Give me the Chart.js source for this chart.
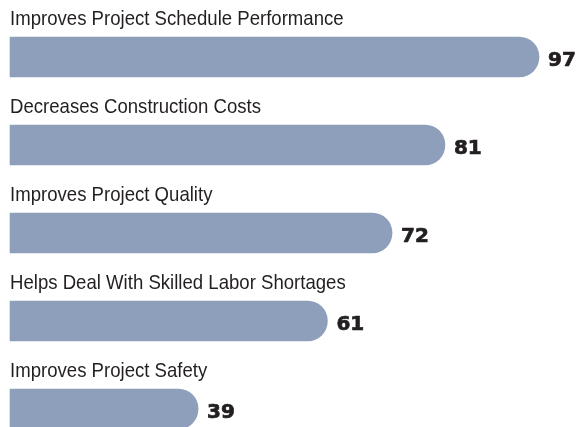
<!DOCTYPE html>
<html>
<head>
<meta charset="utf-8">
<script src="https://cdn.jsdelivr.net/npm/chart.js@4.4.1/dist/chart.umd.min.js"></script>
<style>
html, body { margin: 0; padding: 0; background: #fff; }
#wrap { width: 576px; height: 427px; }
</style>
</head>
<body>
<div id="wrap"><canvas id="chart"></canvas></div>
<script>
const categories = [
  "Improves Project Schedule Performance",
  "Decreases Construction Costs",
  "Improves Project Quality",
  "Helps Deal With Skilled Labor Shortages",
  "Improves Project Safety"
];
const values = [97, 81, 72, 61, 39];

// labels above bars + values after them
const barText = {
  id: "barText",
  afterDatasetsDraw(chart) {
    const ctx = chart.ctx;
    const meta = chart.getDatasetMeta(0);
    const left = chart.chartArea.left;
    meta.data.forEach((bar, i) => {
      ctx.save();
      ctx.fillStyle = "#231f20";
      ctx.textAlign = "left";
      ctx.textBaseline = "alphabetic";
      // condensed look: squeeze a regular face
      ctx.translate(left, bar.y - 32);
      ctx.scale(0.885, 1);
      ctx.font = "21px 'Liberation Sans', Arial, sans-serif";
      ctx.fillText(categories[i], 0, 0);
      ctx.restore();

      ctx.save();
      ctx.fillStyle = "#231f20";
      ctx.strokeStyle = "#231f20";
      ctx.lineWidth = 0.7;
      ctx.font = "bold 20px 'DejaVu Sans', sans-serif";
      ctx.textBaseline = "alphabetic";
      ctx.fillText(String(values[i]), bar.x + 9, bar.y + 9);
      ctx.strokeText(String(values[i]), bar.x + 9, bar.y + 9);
      ctx.restore();
    });
  }
};

new Chart(document.getElementById("chart"), {
  type: "bar",
  data: {
    labels: categories,
    datasets: [{
      data: values,
      base: 7,
      backgroundColor: "#8e9fbb",
      borderRadius: 20,
      borderSkipped: "start",
      barThickness: 40,
      clip: false
    }]
  },
  options: {
    indexAxis: "y",
    responsive: true,
    maintainAspectRatio: false,
    animation: false,
    layout: { padding: { left: 10, right: 0, top: 57, bottom: 18 } },
    plugins: { legend: { display: false }, tooltip: { enabled: false } },
    scales: {
      x: { display: false, min: 7, max: 103.3 },
      y: { display: false, offset: false }
    }
  },
  plugins: [barText]
});
</script>
</body>
</html>
